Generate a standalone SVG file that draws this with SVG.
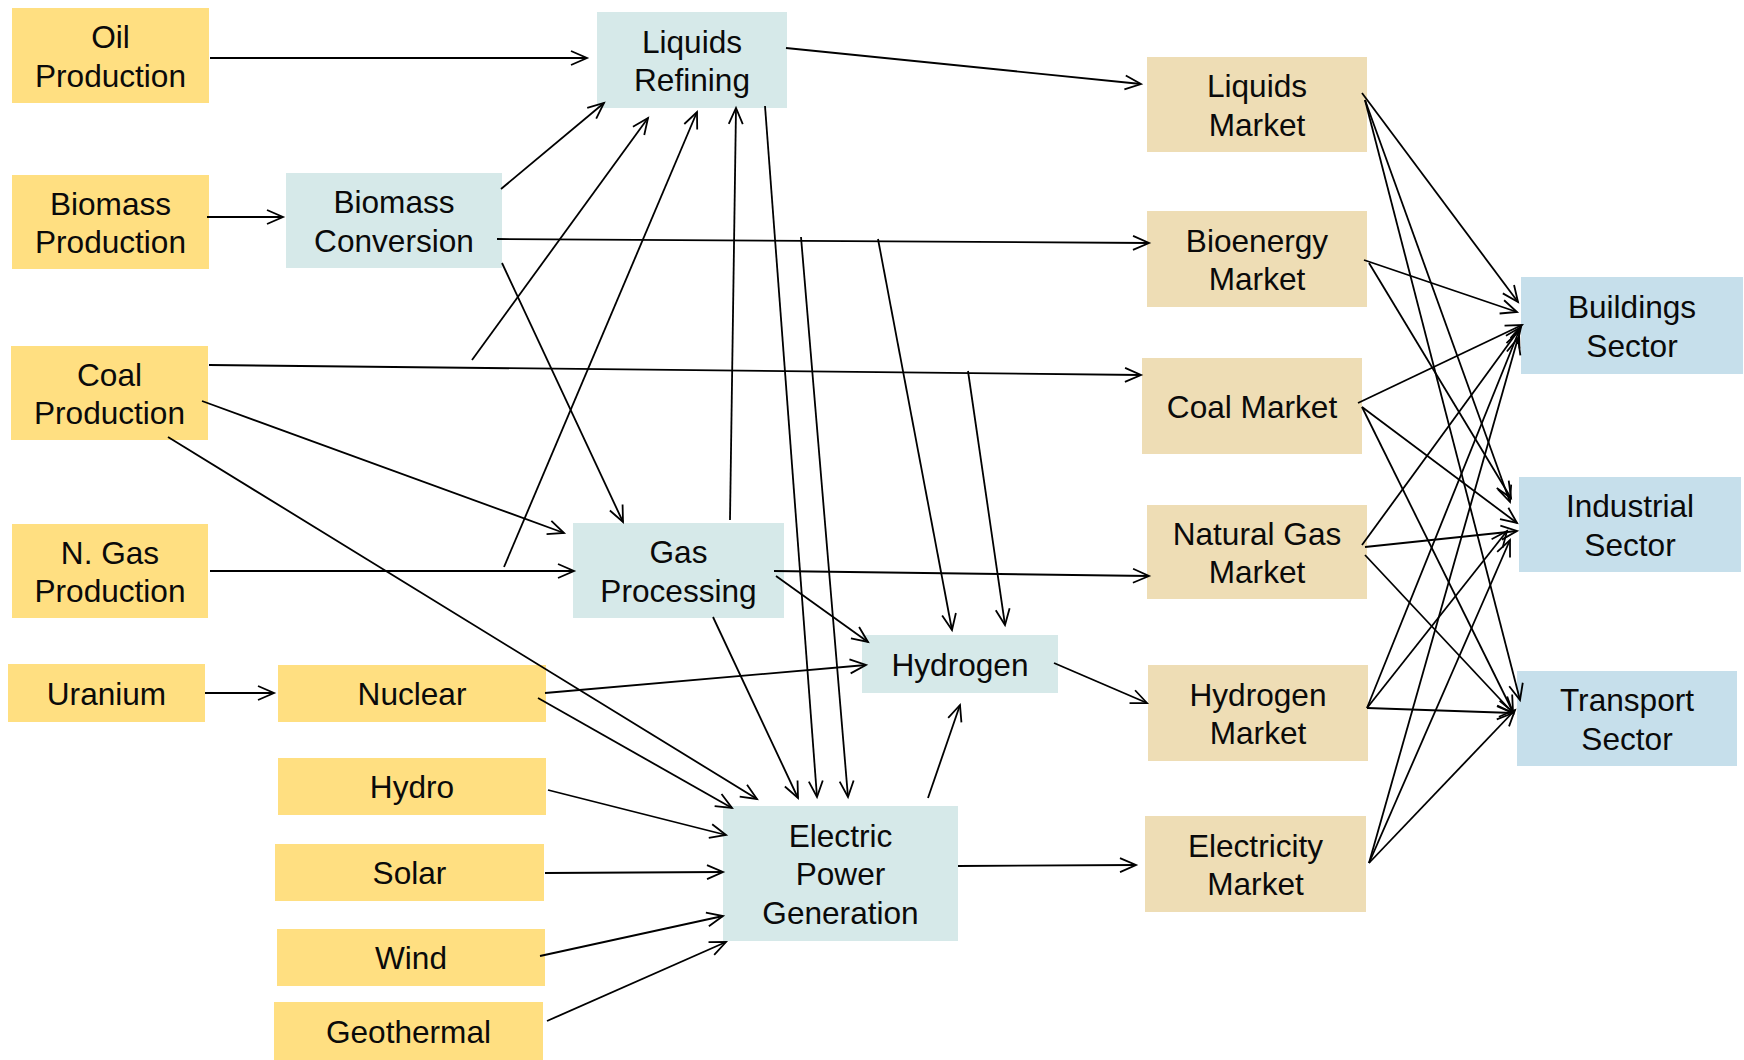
<svg xmlns="http://www.w3.org/2000/svg" width="1744" height="1060" viewBox="0 0 1744 1060">
<style>
.y{fill:#FFDF81}
.t{fill:#D6E9E9}
.m{fill:#EEDDB5}
.s{fill:#C6DFEB}
text{font-family:"Liberation Sans",Arial,sans-serif;font-size:31.6px;fill:#0a0a0a;text-anchor:middle}
#connectors path{fill:none;stroke:#000;stroke-width:1.8;marker-end:url(#ah)}
</style>
<defs>
<marker id="ah" markerUnits="userSpaceOnUse" markerWidth="24" markerHeight="24" viewBox="-20 -12 24 24" refX="0" refY="0" orient="auto" overflow="visible">
<path d="M-16,-7 L0,0 L-16,7" fill="none" stroke="#000" stroke-width="1.8"/>
</marker>
</defs>
<rect width="1744" height="1060" fill="#fff"/>
<g id="nodes">
<g id="oil"><rect class="y" x="12" y="8" width="197" height="95"/><text x="110.5" y="48">Oil</text><text x="110.5" y="86.5">Production</text></g>
<g id="bioprod"><rect class="y" x="12" y="175" width="197" height="94"/><text x="110.5" y="214.5">Biomass</text><text x="110.5" y="253">Production</text></g>
<g id="bioconv"><rect class="t" x="286" y="173" width="216" height="95"/><text x="394" y="213">Biomass</text><text x="394" y="251.5">Conversion</text></g>
<g id="liqref"><rect class="t" x="597" y="12" width="190" height="96"/><text x="692" y="52.5">Liquids</text><text x="692" y="91">Refining</text></g>
<g id="coalprod"><rect class="y" x="11" y="346" width="197" height="94"/><text x="109.5" y="385.5">Coal</text><text x="109.5" y="424">Production</text></g>
<g id="ngprod"><rect class="y" x="12" y="524" width="196" height="94"/><text x="110" y="563.5">N. Gas</text><text x="110" y="602">Production</text></g>
<g id="uranium"><rect class="y" x="8" y="664" width="197" height="58"/><text x="106.5" y="704.5">Uranium</text></g>
<g id="nuclear"><rect class="y" x="278" y="665" width="268" height="57"/><text x="412" y="705">Nuclear</text></g>
<g id="hydro"><rect class="y" x="278" y="758" width="268" height="57"/><text x="412" y="798">Hydro</text></g>
<g id="solar"><rect class="y" x="275" y="844" width="269" height="57"/><text x="409.5" y="884">Solar</text></g>
<g id="wind"><rect class="y" x="277" y="929" width="268" height="57"/><text x="411" y="969">Wind</text></g>
<g id="geothermal"><rect class="y" x="274" y="1002" width="269" height="58"/><text x="408.5" y="1042.5">Geothermal</text></g>
<g id="gasproc"><rect class="t" x="573" y="523" width="211" height="95"/><text x="678.5" y="563">Gas</text><text x="678.5" y="601.5">Processing</text></g>
<g id="hydrogen"><rect class="t" x="862" y="635" width="196" height="58"/><text x="960" y="675.5">Hydrogen</text></g>
<g id="epg"><rect class="t" x="723" y="806" width="235" height="135"/><text x="840.5" y="846.5">Electric</text><text x="840.5" y="885">Power</text><text x="840.5" y="923.5">Generation</text></g>
<g id="liqmkt"><rect class="m" x="1147" y="57" width="220" height="95"/><text x="1257" y="97">Liquids</text><text x="1257" y="135.5">Market</text></g>
<g id="biomkt"><rect class="m" x="1147" y="211" width="220" height="96"/><text x="1257" y="251.5">Bioenergy</text><text x="1257" y="290">Market</text></g>
<g id="coalmkt"><rect class="m" x="1142" y="358" width="220" height="96"/><text x="1252" y="417.5">Coal Market</text></g>
<g id="ngmkt"><rect class="m" x="1147" y="505" width="220" height="94"/><text x="1257" y="544.5">Natural Gas</text><text x="1257" y="583">Market</text></g>
<g id="h2mkt"><rect class="m" x="1148" y="665" width="220" height="96"/><text x="1258" y="705.5">Hydrogen</text><text x="1258" y="744">Market</text></g>
<g id="elecmkt"><rect class="m" x="1145" y="816" width="221" height="96"/><text x="1255.5" y="856.5">Electricity</text><text x="1255.5" y="895">Market</text></g>
<g id="buildings"><rect class="s" x="1521" y="277" width="222" height="97"/><text x="1632" y="318">Buildings</text><text x="1632" y="356.5">Sector</text></g>
<g id="industrial"><rect class="s" x="1519" y="477" width="222" height="95"/><text x="1630" y="517">Industrial</text><text x="1630" y="555.5">Sector</text></g>
<g id="transport"><rect class="s" x="1517" y="671" width="220" height="95"/><text x="1627" y="711">Transport</text><text x="1627" y="749.5">Sector</text></g>
</g>
<g id="connectors">
<path d="M210,58 L587,58"/>
<path d="M207,217 L283,217"/>
<path d="M501,189 L604,103"/>
<path d="M472,360 L648,118"/>
<path d="M504,567 L697,112"/>
<path d="M730,520 L736,108"/>
<path d="M786,48 L1141,84"/>
<path d="M765,106 L817,797"/>
<path d="M497,239 L1149,243"/>
<path d="M801,237 L848,797"/>
<path d="M878,239 L952,630"/>
<path d="M502,263 L623,522"/>
<path d="M209,365 L1141,375"/>
<path d="M968,371 L1005,625"/>
<path d="M202,401 L564,533"/>
<path d="M168,437 L757,799"/>
<path d="M210,571 L574,571"/>
<path d="M774,571 L1149,576"/>
<path d="M776,576 L868,642"/>
<path d="M713,617 L798,798"/>
<path d="M205,693 L274,693"/>
<path d="M545,693 L866,665"/>
<path d="M538,698 L732,808"/>
<path d="M548,790 L726,835"/>
<path d="M545,873 L723,872"/>
<path d="M540,956 L723,916"/>
<path d="M547,1021 L726,942"/>
<path d="M928,798 L960,705"/>
<path d="M958,866 L1136,865"/>
<path d="M1054,663 L1147,703"/>
<path d="M1362,93 L1518,302"/>
<path d="M1365,100 L1510,502"/>
<path d="M1365,100 L1520,700"/>
<path d="M1364,260 L1517,312"/>
<path d="M1369,263 L1511,498"/>
<path d="M1358,403 L1522,325"/>
<path d="M1362,407 L1517,523"/>
<path d="M1362,407 L1513,712"/>
<path d="M1362,545 L1521,327"/>
<path d="M1365,547 L1517,531"/>
<path d="M1365,555 L1513,713"/>
<path d="M1367,708 L1519,331"/>
<path d="M1367,708 L1507,531"/>
<path d="M1367,708 L1513,713"/>
<path d="M1369,863 L1518,338"/>
<path d="M1369,863 L1510,540"/>
<path d="M1369,863 L1515,710"/>
</g>
</svg>
